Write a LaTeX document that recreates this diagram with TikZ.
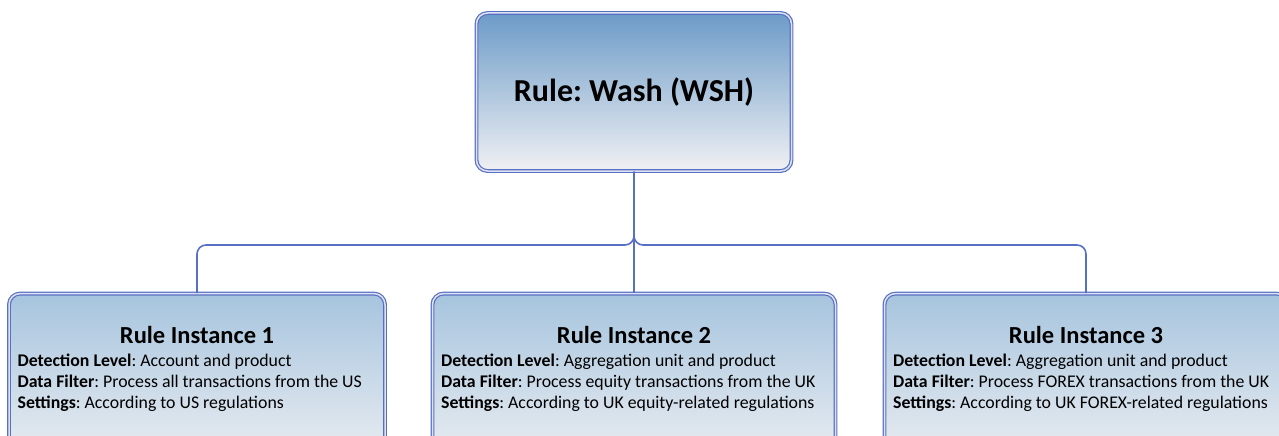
\documentclass[tikz,border=0pt]{standalone}
\usepackage{fontspec}
\setmainfont{Carlito}
\usetikzlibrary{positioning}

\definecolor{edgeblue}{RGB}{88,112,196}
\definecolor{ruletop}{RGB}{108,155,200}
\definecolor{insttop}{RGB}{166,196,222}
\definecolor{boxbottom}{RGB}{240,241,243}

\tikzset{
  rulebox/.style={rectangle, rounded corners=11pt, draw=edgeblue, line width=1.2pt,
    double=white!80!edgeblue, double distance=1.5pt,
    top color=ruletop, bottom color=boxbottom, inner sep=0pt},
  instbox/.style={rulebox, top color=insttop, minimum width=376pt, minimum height=180pt, anchor=north},
  insttitle/.style={font=\fontsize{24.5}{28}\selectfont\bfseries, anchor=base, inner sep=0pt},
  instbody/.style={font=\fontsize{17.8}{21}\selectfont, align=left, anchor=north west, inner sep=0pt},
  link/.style={draw=edgeblue, line width=1.6pt, rounded corners=9pt}
}

\begin{document}
\frenchspacing
\begin{tikzpicture}[x=1pt,y=-1pt]
      \useasboundingbox (0,0) rectangle (1279,436);
      % top rule
      \node[rulebox, minimum width=315pt, minimum height=158pt,
        font=\fontsize{32}{38}\selectfont\bfseries] (rule) at (634,92) {Rule: Wash (WSH)};
      % instances
      \node[instbox] (inst1) at (197,293) {};
      \node[instbox, minimum width=403pt] (inst2) at (634,293) {};
      \node[instbox, minimum width=403pt] (inst3) at (1086,293) {};
      \node[insttitle] (title1) at ([yshift=-50pt]inst1.north) {Rule Instance 1};
      \node[insttitle] (title2) at ([yshift=-50pt]inst2.north) {Rule Instance 2};
      \node[insttitle] (title3) at ([yshift=-50pt]inst3.north) {Rule Instance 3};
      \node[instbody] (body1) at ([xshift=9pt,yshift=-61pt]inst1.north west)
        {\textbf{Detection Level}: Account and product\\
         \textbf{Data Filter}: Process all transactions from the US\\
         \textbf{Settings}: According to US regulations};
      \node[instbody] (body2) at ([xshift=9pt,yshift=-61pt]inst2.north west)
        {\textbf{Detection Level}: Aggregation unit and product\\
         \textbf{Data Filter}: Process equity transactions from the UK\\
         \textbf{Settings}: According to UK equity-related regulations};
      \node[instbody] (body3) at ([xshift=9pt,yshift=-61pt]inst3.north west)
        {\textbf{Detection Level}: Aggregation unit and product\\
         \textbf{Data Filter}: Process FOREX transactions from the UK\\
         \textbf{Settings}: According to UK FOREX-related regulations};
      % links
      \coordinate (bus) at (634,245);
      \draw[link] (rule.south) -- (bus) -| (inst1.north);
      \draw[link] (rule.south) -- (bus) -| (inst3.north);
      \draw[link] (rule.south) -- (inst2.north);
\end{tikzpicture}
\end{document}
